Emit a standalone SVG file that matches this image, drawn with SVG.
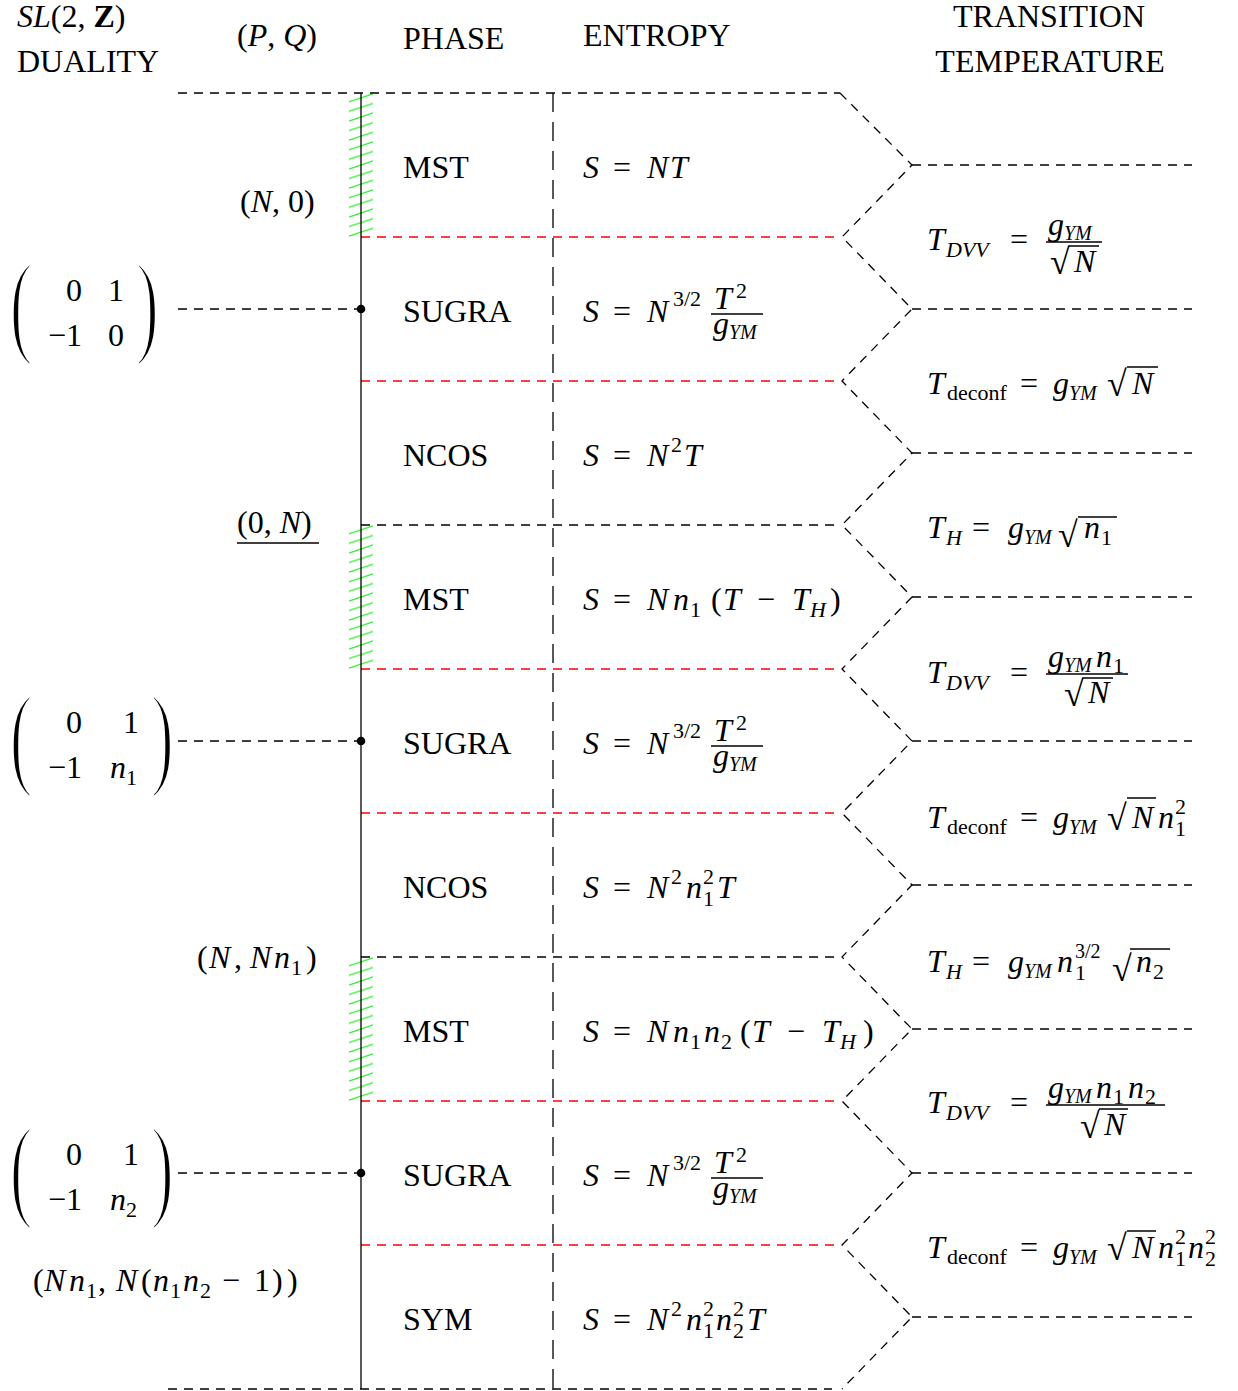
<svg xmlns="http://www.w3.org/2000/svg" width="1238" height="1391" viewBox="0 0 1238 1391">
<defs>
<style>
.t{font-family:"Liberation Serif",serif;font-size:32px;fill:#000}
.i{font-style:italic}
.b{font-weight:bold}
.s{font-size:22px}
.ss{font-size:20px}
.rad{font-family:"Liberation Serif",serif;font-size:36px;fill:#000}
.d{stroke:#000;stroke-width:1.3;fill:none;stroke-dasharray:9 7}
.dv{stroke:#000;stroke-width:1.3;fill:none;stroke-dasharray:19 10}
.r{stroke:#ff0000;stroke-width:1.3;fill:none;stroke-dasharray:9 7}
.sol{stroke:#000;stroke-width:1.3;fill:none}
.bar{stroke:#000;stroke-width:1.5}
.par{font-family:"Liberation Serif",serif;font-size:114px;fill:#000;stroke:#fff;stroke-width:3.2}
</style>
<pattern id="hatch" patternUnits="userSpaceOnUse" x="349" y="93" width="24" height="9.6">
<line x1="0" y1="8.8" x2="24" y2="0.8" stroke="#22ee22" stroke-width="1.2"/>
</pattern>
</defs>
<rect width="1238" height="1391" fill="#fff"/>

<g id="header">
<text class="t" x="17" y="27"><tspan class="i">SL</tspan>(2, <tspan class="b">Z</tspan>)</text>
<text class="t" x="17" y="72">DUALITY</text>
<text class="t" x="237" y="46">(<tspan class="i">P</tspan>, <tspan class="i">Q</tspan>)</text>
<text class="t" x="403" y="49">PHASE</text>
<text class="t" x="583" y="46">ENTROPY</text>
<text class="t" x="1049" y="27" text-anchor="middle">TRANSITION</text>
<text class="t" x="1050" y="72" text-anchor="middle">TEMPERATURE</text>
</g>

<g id="hatching">
<rect x="349" y="93" width="24" height="144" fill="url(#hatch)"/>
<rect x="349" y="525" width="24" height="144" fill="url(#hatch)"/>
<rect x="349" y="957" width="24" height="144" fill="url(#hatch)"/>
</g>

<g id="connectors">
<path class="d" d="M178 93H840M168 1389H832M361 525H840M361 957H840"/>
<path class="r" d="M361 237H840M361 381H840M361 669H840M361 813H840M361 1101H840M361 1245H840"/>
<path class="dv" d="M553 93V1389"/>
<path class="sol" d="M361 93V1389"/>
<polyline class="d" points="840,93 912,165 842,237 912,309 842,381 912,453 842,525 912,597 842,669 912,741 842,813 912,885 842,957 912,1029 842,1101 912,1173 842,1245 912,1317 842,1389"/>
<path class="d" d="M912 165H1192M912 309H1192M912 453H1192M912 597H1192M912 741H1192M912 885H1192M912 1029H1192M912 1173H1192M912 1317H1192"/>
<path class="d" d="M178 309H361M178 741H361M178 1173H361"/>
<circle cx="361" cy="309" r="4.3"/>
<circle cx="361" cy="741" r="4.3"/>
<circle cx="361" cy="1173" r="4.3"/>
</g>

<g id="pq-labels">
<text class="t" x="240" y="212">(<tspan class="i">N</tspan>, 0)</text>
<text class="t" x="237" y="533">(0, <tspan class="i">N</tspan>)</text>
<line x1="237" y1="543" x2="319" y2="543" stroke="#000" stroke-width="1.4"/>
<text class="t"><tspan x="197" y="968">(</tspan><tspan class="i" x="209">N</tspan><tspan x="234">,</tspan><tspan class="i" x="250">N</tspan><tspan class="i" x="274">n</tspan><tspan class="s" x="291" y="975">1</tspan><tspan x="306" y="968">)</tspan></text>
<text class="t"><tspan x="33" y="1291">(</tspan><tspan class="i" x="44">N</tspan><tspan class="i" x="69">n</tspan><tspan class="s" x="86" y="1298">1</tspan><tspan x="98" y="1291">,</tspan><tspan class="i" x="116">N</tspan><tspan x="141">(</tspan><tspan class="i" x="153">n</tspan><tspan class="s" x="170" y="1298">1</tspan><tspan class="i" x="183" y="1291">n</tspan><tspan class="s" x="200" y="1298">2</tspan><tspan x="222" y="1291">−</tspan><tspan x="254">1</tspan><tspan x="272">)</tspan><tspan x="287">)</tspan></text>
</g>

<g id="matrix1">
<text class="par" transform="translate(9.7,341.8) scale(0.6,1)">(</text>
<text class="par" transform="translate(136,341.8) scale(0.6,1)">)</text>
<text class="t" x="82" y="301" text-anchor="end">0</text>
<text class="t" x="124" y="301" text-anchor="end">1</text>
<text class="t" x="82" y="346" text-anchor="end">−1</text>
<text class="t" x="124" y="346" text-anchor="end">0</text>
</g>
<g id="matrix2">
<text class="par" transform="translate(9.7,773.8) scale(0.6,1)">(</text>
<text class="par" transform="translate(151,773.8) scale(0.6,1)">)</text>
<text class="t" x="82" y="733" text-anchor="end">0</text>
<text class="t" x="139" y="733" text-anchor="end">1</text>
<text class="t" x="82" y="778" text-anchor="end">−1</text>
<text class="t" x="110" y="778"><tspan class="i">n</tspan><tspan class="s" dy="7">1</tspan></text>
</g>
<g id="matrix3">
<text class="par" transform="translate(9.7,1205.8) scale(0.6,1)">(</text>
<text class="par" transform="translate(151,1205.8) scale(0.6,1)">)</text>
<text class="t" x="82" y="1165" text-anchor="end">0</text>
<text class="t" x="139" y="1165" text-anchor="end">1</text>
<text class="t" x="82" y="1210" text-anchor="end">−1</text>
<text class="t" x="110" y="1210"><tspan class="i">n</tspan><tspan class="s" dy="7">2</tspan></text>
</g>

<g id="phases">
<text class="t" x="403" y="178">MST</text>
<text class="t" x="403" y="322">SUGRA</text>
<text class="t" x="403" y="466">NCOS</text>
<text class="t" x="403" y="610">MST</text>
<text class="t" x="403" y="754">SUGRA</text>
<text class="t" x="403" y="898">NCOS</text>
<text class="t" x="403" y="1042">MST</text>
<text class="t" x="403" y="1186">SUGRA</text>
<text class="t" x="403" y="1330">SYM</text>
</g>

<g id="entropy1">
<text class="t"><tspan class="i" x="583" y="178">S</tspan><tspan x="613">=</tspan><tspan class="i" x="647">N</tspan><tspan class="i" x="670">T</tspan></text>
</g>
<g id="entropy2">
<text class="t"><tspan class="i" x="583" y="322">S</tspan><tspan x="613">=</tspan><tspan class="i" x="647">N</tspan><tspan class="s" x="673" y="306">3/2</tspan></text>
<text class="t"><tspan class="i" x="714" y="309">T</tspan><tspan class="s" x="736" y="298">2</tspan></text>
<text class="t"><tspan class="i" x="713" y="334">g</tspan><tspan class="i ss" x="729" y="339">YM</tspan></text>
<line class="bar" x1="711" y1="314" x2="763" y2="314"/>
</g>
<g id="entropy3">
<text class="t"><tspan class="i" x="583" y="466">S</tspan><tspan x="613">=</tspan><tspan class="i" x="647">N</tspan><tspan class="s" x="671" y="452">2</tspan><tspan class="i" x="684" y="466">T</tspan></text>
</g>
<g id="entropy4">
<text class="t"><tspan class="i" x="583" y="610">S</tspan><tspan x="613">=</tspan><tspan class="i" x="647">N</tspan><tspan class="i" x="673">n</tspan><tspan class="s" x="690" y="617">1</tspan><tspan x="711" y="610">(</tspan><tspan class="i" x="723">T</tspan><tspan x="757">−</tspan><tspan class="i" x="792">T</tspan><tspan class="i s" x="810" y="617">H</tspan><tspan x="830" y="610">)</tspan></text>
</g>
<g id="entropy5">
<text class="t"><tspan class="i" x="583" y="754">S</tspan><tspan x="613">=</tspan><tspan class="i" x="647">N</tspan><tspan class="s" x="673" y="738">3/2</tspan></text>
<text class="t"><tspan class="i" x="714" y="741">T</tspan><tspan class="s" x="736" y="730">2</tspan></text>
<text class="t"><tspan class="i" x="713" y="766">g</tspan><tspan class="i ss" x="729" y="771">YM</tspan></text>
<line class="bar" x1="711" y1="746" x2="763" y2="746"/>
</g>
<g id="entropy6">
<text class="t"><tspan class="i" x="583" y="898">S</tspan><tspan x="613">=</tspan><tspan class="i" x="647">N</tspan><tspan class="s" x="671" y="884">2</tspan><tspan class="i" x="686" y="898">n</tspan><tspan class="s" x="703" y="884">2</tspan><tspan class="s" x="703" y="906">1</tspan><tspan class="i" x="717" y="898">T</tspan></text>
</g>
<g id="entropy7">
<text class="t"><tspan class="i" x="583" y="1042">S</tspan><tspan x="613">=</tspan><tspan class="i" x="647">N</tspan><tspan class="i" x="673">n</tspan><tspan class="s" x="690" y="1049">1</tspan><tspan class="i" x="704" y="1042">n</tspan><tspan class="s" x="721" y="1049">2</tspan><tspan x="740" y="1042">(</tspan><tspan class="i" x="752">T</tspan><tspan x="787">−</tspan><tspan class="i" x="822">T</tspan><tspan class="i s" x="840" y="1049">H</tspan><tspan x="863" y="1042">)</tspan></text>
</g>
<g id="entropy8">
<text class="t"><tspan class="i" x="583" y="1186">S</tspan><tspan x="613">=</tspan><tspan class="i" x="647">N</tspan><tspan class="s" x="673" y="1170">3/2</tspan></text>
<text class="t"><tspan class="i" x="714" y="1173">T</tspan><tspan class="s" x="736" y="1162">2</tspan></text>
<text class="t"><tspan class="i" x="713" y="1198">g</tspan><tspan class="i ss" x="729" y="1203">YM</tspan></text>
<line class="bar" x1="711" y1="1178" x2="763" y2="1178"/>
</g>
<g id="entropy9">
<text class="t"><tspan class="i" x="583" y="1330">S</tspan><tspan x="613">=</tspan><tspan class="i" x="647">N</tspan><tspan class="s" x="671" y="1316">2</tspan><tspan class="i" x="686" y="1330">n</tspan><tspan class="s" x="703" y="1316">2</tspan><tspan class="s" x="703" y="1338">1</tspan><tspan class="i" x="716" y="1330">n</tspan><tspan class="s" x="733" y="1316">2</tspan><tspan class="s" x="733" y="1338">2</tspan><tspan class="i" x="747" y="1330">T</tspan></text>
</g>

<g id="temp1">
<text class="t"><tspan class="i" x="927" y="250">T</tspan><tspan class="i s" x="946" y="257">DVV</tspan><tspan x="1010" y="250">=</tspan></text>
<text class="t"><tspan class="i" x="1048" y="235">g</tspan><tspan class="i ss" x="1064" y="240">YM</tspan></text>
<text class="t"><tspan class="i" x="1074" y="272">N</tspan></text>
<text class="rad" x="1050" y="274">√</text>
<line class="bar" x1="1046" y1="242" x2="1102" y2="242"/>
<line class="bar" x1="1069" y1="246" x2="1099" y2="246"/>
</g>
<g id="temp2">
<text class="t"><tspan class="i" x="927" y="394">T</tspan><tspan class="s" x="947" y="400">deconf</tspan><tspan x="1020" y="394">=</tspan><tspan class="i" x="1053">g</tspan><tspan class="i ss" x="1069" y="400">YM</tspan><tspan class="i" x="1132" y="394">N</tspan></text>
<text class="rad" x="1107" y="396">√</text>
<line class="bar" x1="1127" y1="367" x2="1158" y2="367"/>
</g>
<g id="temp3">
<text class="t"><tspan class="i" x="927" y="538">T</tspan><tspan class="i s" x="946" y="545">H</tspan><tspan x="972" y="538">=</tspan><tspan class="i" x="1008">g</tspan><tspan class="i ss" x="1024" y="544">YM</tspan><tspan class="i" x="1084" y="538">n</tspan><tspan class="s" x="1101" y="545">1</tspan></text>
<text class="rad" x="1058" y="547">√</text>
<line class="bar" x1="1078" y1="517" x2="1117" y2="517"/>
</g>
<g id="temp4">
<text class="t"><tspan class="i" x="927" y="683">T</tspan><tspan class="i s" x="946" y="690">DVV</tspan><tspan x="1010" y="683">=</tspan></text>
<text class="t"><tspan class="i" x="1048" y="667">g</tspan><tspan class="i ss" x="1064" y="672">YM</tspan><tspan class="i" x="1096" y="667">n</tspan><tspan class="s" x="1113" y="673">1</tspan></text>
<text class="t"><tspan class="i" x="1088" y="703">N</tspan></text>
<text class="rad" x="1064" y="706">√</text>
<line class="bar" x1="1046" y1="674" x2="1128" y2="674"/>
<line class="bar" x1="1083" y1="678" x2="1113" y2="678"/>
</g>
<g id="temp5">
<text class="t"><tspan class="i" x="927" y="828">T</tspan><tspan class="s" x="947" y="834">deconf</tspan><tspan x="1020" y="828">=</tspan><tspan class="i" x="1053">g</tspan><tspan class="i ss" x="1069" y="834">YM</tspan><tspan class="i" x="1132" y="828">N</tspan><tspan class="i" x="1158">n</tspan><tspan class="s" x="1175" y="814">2</tspan><tspan class="s" x="1175" y="836">1</tspan></text>
<text class="rad" x="1107" y="830">√</text>
<line class="bar" x1="1127" y1="798" x2="1156" y2="798"/>
</g>
<g id="temp6">
<text class="t"><tspan class="i" x="927" y="972">T</tspan><tspan class="i s" x="946" y="979">H</tspan><tspan x="972" y="972">=</tspan><tspan class="i" x="1008">g</tspan><tspan class="i ss" x="1024" y="978">YM</tspan><tspan class="i" x="1057" y="972">n</tspan><tspan class="ss" x="1075" y="958">3/2</tspan><tspan class="s" x="1075" y="980">1</tspan><tspan class="i" x="1136" y="972">n</tspan><tspan class="s" x="1153" y="979">2</tspan></text>
<text class="rad" x="1112" y="981">√</text>
<line class="bar" x1="1130" y1="949" x2="1170" y2="949"/>
</g>
<g id="temp7">
<text class="t"><tspan class="i" x="927" y="1113">T</tspan><tspan class="i s" x="946" y="1120">DVV</tspan><tspan x="1010" y="1113">=</tspan></text>
<text class="t"><tspan class="i" x="1048" y="1098">g</tspan><tspan class="i ss" x="1064" y="1103">YM</tspan><tspan class="i" x="1096" y="1098">n</tspan><tspan class="s" x="1113" y="1104">1</tspan><tspan class="i" x="1128" y="1098">n</tspan><tspan class="s" x="1145" y="1104">2</tspan></text>
<text class="t"><tspan class="i" x="1104" y="1135">N</tspan></text>
<text class="rad" x="1080" y="1138">√</text>
<line class="bar" x1="1046" y1="1105" x2="1165" y2="1105"/>
<line class="bar" x1="1099" y1="1109" x2="1128" y2="1109"/>
</g>
<g id="temp8">
<text class="t"><tspan class="i" x="927" y="1258">T</tspan><tspan class="s" x="947" y="1264">deconf</tspan><tspan x="1020" y="1258">=</tspan><tspan class="i" x="1053">g</tspan><tspan class="i ss" x="1069" y="1264">YM</tspan><tspan class="i" x="1132" y="1258">N</tspan><tspan class="i" x="1158">n</tspan><tspan class="s" x="1175" y="1244">2</tspan><tspan class="s" x="1175" y="1266">1</tspan><tspan class="i" x="1188" y="1258">n</tspan><tspan class="s" x="1205" y="1244">2</tspan><tspan class="s" x="1205" y="1266">2</tspan></text>
<text class="rad" x="1107" y="1260">√</text>
<line class="bar" x1="1127" y1="1231" x2="1156" y2="1231"/>
</g>
</svg>
